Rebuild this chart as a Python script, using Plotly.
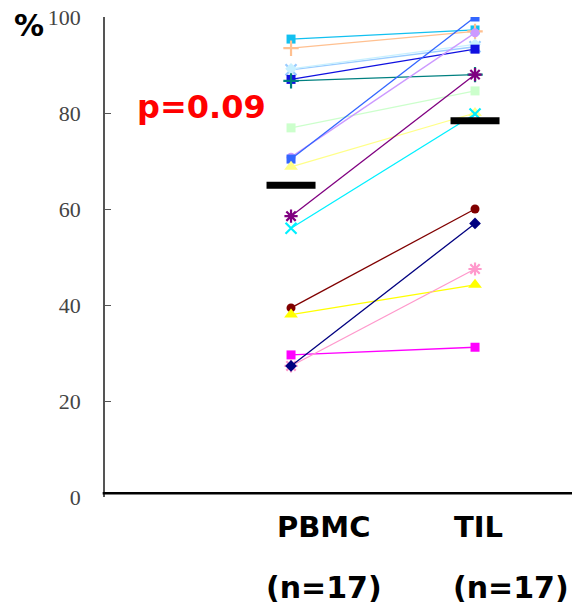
import numpy as np
import plotly.graph_objects as go

groups = ["PBMC", "TIL"]
pbmc = [95.4, 93.5, 89.0, 89.2, 87.0, 86.7, 76.9, 70.8, 70.4, 68.8, 58.5, 56.0, 39.4, 38.0, 29.6, 27.3, 27.3]
til = [97.3, 97.0, 93.8, 94.3, 93.3, 88.0, 84.6, 96.7, 100.0, 80.0, 88.0, 79.8, 60.0, 44.2, 31.2, 47.5, 57.0]
colors = ["#12c0f0", "#ffc090", "#99ccff", "#c8f0ff", "#1010e0", "#008080", "#ccffcc",
          "#cc99ff", "#3366ff", "#ffff88", "#800080", "#00f0ff", "#800000", "#ffff00",
          "#ff00ff", "#ff99cc", "#000080"]
symbols = ["square", "cross-thin-open", "x-thin-open", "diamond", "square", "cross-thin-open",
           "square", "circle", "square", "triangle-up", "asterisk-open", "x-thin-open",
           "circle", "triangle-up", "square", "asterisk-open", "diamond"]

fig = go.Figure()
xs = [0, 1]
for p, t, c, s in zip(pbmc, til, colors, symbols):
    open_sym = s.endswith("open")
    size = 11 if open_sym else (12 if s == "triangle-up" else 9)
    fig.add_trace(go.Scatter(
        x=xs, y=[p, t], mode="lines+markers",
        line=dict(color=c, width=1.3),
        marker=dict(symbol=s, size=size, color=c,
                    line=dict(color=c, width=2.2 if open_sym else 0)),
        showlegend=False, hoverinfo="skip"))

means = [float(np.mean(pbmc)), float(np.mean(til))]
fig.add_trace(go.Scatter(
    x=xs, y=means, mode="markers",
    marker=dict(symbol="line-ew-open", size=35, color="black",
                line=dict(color="black", width=7)),
    showlegend=False, hoverinfo="skip"))

fig.add_shape(type="line", xref="paper", yref="y", x0=-0.005, x1=1, y0=0.8, y1=0.8,
              line=dict(color="black", width=2.5))

ann = [
    dict(text="%", x=-0.163, y=0.983, size=30, color="black"),
    dict(text="p=0.09", x=0.206, y=0.812, size=32, color="red"),
    dict(text=groups[0], x=0.469, y=-0.063, size=29, color="black"),
    dict(text=groups[1], x=0.799, y=-0.063, size=29, color="black"),
    dict(text="(n=17)", x=0.469, y=-0.188, size=30, color="black"),
    dict(text="(n=17)", x=0.870, y=-0.188, size=30, color="black"),
]
for a in ann:
    fig.add_annotation(text="<b>%s</b>" % a["text"], xref="paper", yref="paper",
                       x=a["x"], y=a["y"], xanchor="center", yanchor="middle",
                       showarrow=False,
                       font=dict(family="DejaVu Sans", size=a["size"], color=a["color"]))

fig.update_xaxes(visible=False, range=[-1.011, 1.527])
fig.update_yaxes(range=[0, 100], tickvals=[0, 20, 40, 60, 80, 100],
                 showline=True, linecolor="#555", linewidth=1.5,
                 ticks="inside", ticklen=6, tickcolor="#555", tickwidth=1.2,
                 showgrid=False, zeroline=False, ticklabelstandoff=18,
                 tickfont=dict(family="Liberation Serif", size=22, color="#444"))
fig.update_layout(width=572, height=610, margin=dict(l=105, r=0, t=17, b=113),
                  plot_bgcolor="white", paper_bgcolor="white")
fig.write_html("out.html")
